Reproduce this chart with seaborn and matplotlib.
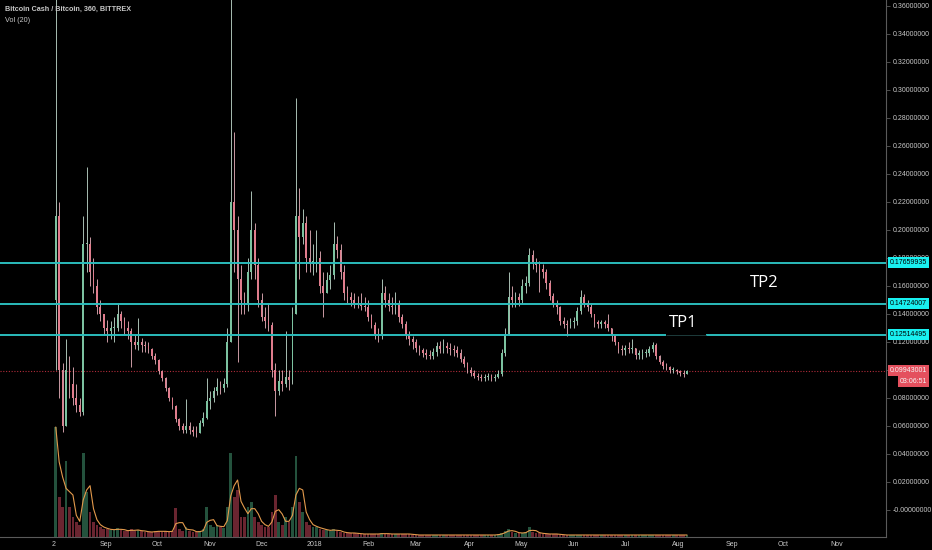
import numpy as np
import pandas as pd
import matplotlib
matplotlib.use("Agg")
import matplotlib.pyplot as plt
import matplotlib.dates as mdates
import seaborn as sns

# ── DATA: 2-day bars (2 Aug 2017 - 7 Aug 2018) ────────────────────────────────
START = "2017-08-02"
FIRST_OPEN = 0.15

close = [
    0.21, 0.10, 0.06, 0.10, 0.09, 0.08, 0.075, 0.07, 0.19, 0.19,
    0.17, 0.16, 0.145, 0.14, 0.13, 0.128, 0.13, 0.13, 0.14, 0.135,
    0.13, 0.128, 0.12, 0.118, 0.12, 0.118, 0.117, 0.115, 0.11, 0.107,
    0.099, 0.094, 0.087, 0.08, 0.074, 0.065, 0.06, 0.057, 0.06, 0.057,
    0.056, 0.055, 0.062, 0.066, 0.078, 0.08, 0.085, 0.088, 0.087, 0.09,
    0.12, 0.22, 0.20, 0.165, 0.15, 0.148, 0.17, 0.20, 0.175, 0.15,
    0.138, 0.135, 0.132, 0.10, 0.085, 0.092, 0.09, 0.095, 0.093, 0.14,
    0.21, 0.195, 0.205, 0.18, 0.176, 0.178, 0.18, 0.16, 0.155, 0.164,
    0.168, 0.19, 0.186, 0.17, 0.155, 0.152, 0.15, 0.148, 0.147, 0.146,
    0.145, 0.138, 0.132, 0.126, 0.124, 0.155, 0.15, 0.146, 0.145, 0.148,
    0.138, 0.133, 0.125, 0.122, 0.12, 0.116, 0.114, 0.112, 0.111, 0.11,
    0.113, 0.117, 0.115, 0.117, 0.116, 0.115, 0.114, 0.112, 0.108, 0.104,
    0.10, 0.098, 0.096, 0.095, 0.094, 0.095, 0.096, 0.094, 0.095, 0.097,
    0.112, 0.126, 0.152, 0.15, 0.152, 0.15, 0.16, 0.162, 0.182, 0.177,
    0.175, 0.172, 0.17, 0.162, 0.153, 0.148, 0.145, 0.135, 0.133, 0.132,
    0.134, 0.135, 0.142, 0.152, 0.148, 0.145, 0.14, 0.134, 0.133, 0.134,
    0.133, 0.13, 0.124, 0.12, 0.115, 0.114, 0.116, 0.115, 0.116, 0.111,
    0.111, 0.112, 0.112, 0.115, 0.118, 0.11, 0.106, 0.103, 0.102, 0.10,
    0.10, 0.099, 0.098, 0.097, 0.0994,
]
high = [
    0.40, 0.22, 0.105, 0.122, 0.11, 0.102, 0.09, 0.08, 0.21, 0.245,
    0.195, 0.18, 0.165, 0.15, 0.14, 0.136, 0.135, 0.138, 0.148, 0.142,
    0.138, 0.135, 0.13, 0.125, 0.137, 0.123, 0.121, 0.12, 0.116, 0.112,
    0.108, 0.10, 0.095, 0.088, 0.081, 0.075, 0.066, 0.062, 0.079, 0.063,
    0.06, 0.06, 0.064, 0.07, 0.094, 0.085, 0.088, 0.094, 0.092, 0.094,
    0.13, 0.40, 0.27, 0.21, 0.175, 0.156, 0.18, 0.228, 0.205, 0.18,
    0.155, 0.145, 0.148, 0.134, 0.105, 0.10, 0.10, 0.128, 0.10, 0.145,
    0.294, 0.23, 0.215, 0.21, 0.20, 0.19, 0.20, 0.185, 0.17, 0.17,
    0.175, 0.206, 0.196, 0.19, 0.175, 0.16, 0.156, 0.155, 0.153, 0.155,
    0.152, 0.15, 0.14, 0.134, 0.13, 0.165, 0.16, 0.155, 0.152, 0.156,
    0.15, 0.14, 0.135, 0.128, 0.124, 0.122, 0.118, 0.116, 0.115, 0.114,
    0.116, 0.12, 0.121, 0.122, 0.12, 0.119, 0.118, 0.117, 0.115, 0.11,
    0.106, 0.102, 0.10, 0.098, 0.097, 0.097, 0.098, 0.097, 0.097, 0.10,
    0.115, 0.13, 0.17, 0.16, 0.156, 0.155, 0.165, 0.167, 0.187, 0.186,
    0.18, 0.178, 0.176, 0.172, 0.164, 0.155, 0.15, 0.146, 0.138, 0.136,
    0.137, 0.138, 0.145, 0.157, 0.154, 0.15, 0.147, 0.14, 0.136, 0.136,
    0.136, 0.14, 0.13, 0.125, 0.12, 0.118, 0.118, 0.12, 0.122, 0.116,
    0.114, 0.115, 0.115, 0.117, 0.12, 0.119, 0.111, 0.107, 0.105, 0.103,
    0.102, 0.101, 0.10, 0.10, 0.10,
]
low = [
    0.10, 0.08, 0.056, 0.06, 0.08, 0.075, 0.07, 0.067, 0.068, 0.17,
    0.16, 0.155, 0.14, 0.135, 0.125, 0.12, 0.122, 0.12, 0.128, 0.13,
    0.125, 0.122, 0.102, 0.115, 0.114, 0.113, 0.113, 0.112, 0.108, 0.104,
    0.097, 0.092, 0.085, 0.078, 0.072, 0.063, 0.057, 0.055, 0.055, 0.054,
    0.053, 0.052, 0.055, 0.06, 0.065, 0.072, 0.077, 0.082, 0.083, 0.084,
    0.088, 0.12, 0.17, 0.106, 0.14, 0.14, 0.142, 0.165, 0.165, 0.145,
    0.135, 0.13, 0.128, 0.095, 0.067, 0.082, 0.085, 0.088, 0.086, 0.09,
    0.14, 0.165, 0.19, 0.17, 0.17, 0.168, 0.17, 0.155, 0.138, 0.155,
    0.158, 0.165, 0.18, 0.165, 0.15, 0.148, 0.146, 0.144, 0.144, 0.143,
    0.142, 0.135, 0.13, 0.122, 0.12, 0.122, 0.145, 0.142, 0.14, 0.14,
    0.134, 0.13, 0.122, 0.118, 0.115, 0.113, 0.111, 0.109, 0.108, 0.108,
    0.108, 0.11, 0.112, 0.112, 0.112, 0.111, 0.11, 0.109, 0.106, 0.102,
    0.098, 0.096, 0.094, 0.093, 0.092, 0.092, 0.093, 0.092, 0.092, 0.094,
    0.096, 0.11, 0.125, 0.145, 0.145, 0.146, 0.148, 0.155, 0.16, 0.172,
    0.17, 0.156, 0.166, 0.158, 0.15, 0.145, 0.14, 0.132, 0.13, 0.124,
    0.13, 0.13, 0.132, 0.14, 0.145, 0.142, 0.138, 0.131, 0.13, 0.13,
    0.13, 0.128, 0.121, 0.118, 0.112, 0.111, 0.111, 0.112, 0.112, 0.108,
    0.108, 0.108, 0.109, 0.11, 0.113, 0.108, 0.104, 0.101, 0.10, 0.098,
    0.098, 0.097, 0.096, 0.095, 0.097,
]
# relative volume (arbitrary units, pane scaled 0..538)
volume = [
    110, 40, 30, 76, 30, 20, 15, 12, 84, 45,
    25, 15, 12, 10, 8, 8, 7, 7, 9, 7,
    6, 6, 8, 6, 7, 6, 5, 5, 5, 6,
    6, 5, 6, 5, 6, 29, 8, 6, 10, 6,
    5, 5, 6, 8, 30, 12, 10, 12, 10, 9,
    30, 84, 40, 47, 20, 20, 30, 35, 20, 15,
    12, 10, 10, 25, 42, 15, 12, 20, 15, 30,
    81, 35, 25, 15, 12, 10, 10, 8, 7, 7,
    6, 8, 6, 5, 4, 4, 4, 4, 3, 3,
    3, 3, 3, 3, 3, 4, 3, 3, 3, 3,
    3, 3, 3, 3, 2, 2, 2, 2, 2, 2,
    2, 2, 2, 2, 2, 2, 2, 2, 2, 2,
    2, 2, 2, 2, 2, 2, 2, 2, 2, 3,
    4, 6, 8, 5, 4, 4, 4, 5, 10, 5,
    4, 4, 3, 3, 3, 3, 3, 2, 2, 2,
    2, 2, 2, 2, 2, 2, 2, 2, 2, 2,
    2, 2, 2, 2, 2, 2, 2, 2, 2, 2,
    2, 2, 2, 2, 2, 2, 2, 2, 2, 2,
    2, 2, 2, 2, 2,
]

levels = [0.17659935, 0.14724007, 0.12514495]
level_labels = ["0.17659935", "0.14724007", "0.12514495"]
last_price = 0.09943001
last_label = "0.09943001"
timer_label = "03:06:51"

price_ticks = [0.00, 0.02, 0.04, 0.06, 0.08, 0.10, 0.12, 0.14, 0.16, 0.18,
               0.20, 0.22, 0.24, 0.26, 0.28, 0.30, 0.32, 0.34, 0.36]
month_ticks = ["2017-08-02", "2017-09-01", "2017-10-01", "2017-11-01", "2017-12-01",
               "2018-01-01", "2018-02-01", "2018-03-01", "2018-04-01", "2018-05-01",
               "2018-06-01", "2018-07-01", "2018-08-01", "2018-09-01", "2018-10-01",
               "2018-11-01"]
month_labels = ["2", "Sep", "Oct", "Nov", "Dec", "2018", "Feb", "Mar", "Apr", "May",
                "Jun", "Jul", "Aug", "Sep", "Oct", "Nov"]

# ── STYLE ─────────────────────────────────────────────────────────────────────
BG = "#000000"
UP, DOWN = "#7cc2a0", "#e07d8d"
UP_WICK, DOWN_WICK = "#c4ddd0", "#eab3bd"
VOL_UP, VOL_DOWN = "#24523d", "#6a2530"
CYAN_LINE, CYAN_BOX = "#2bbcbc", "#19f0f0"
RED = "#e4505e"
AXIS_GREY = "#5a5a5a"
TEXT_GREY = "#c8c8c8"

sns.set_theme(style="dark", rc={"axes.facecolor": BG, "figure.facecolor": BG,
                                "axes.edgecolor": AXIS_GREY, "grid.color": BG})
plt.rcParams["font.family"] = ["Liberation Sans", "DejaVu Sans"]

df = pd.DataFrame({"close": close, "high": high, "low": low, "volume": volume})
df["date"] = pd.date_range(START, periods=len(df), freq="2D") + pd.Timedelta(days=1)
df["open"] = df["close"].shift(1).fillna(FIRST_OPEN)
df["up"] = df["close"] >= df["open"]
df["vol_ma"] = df["volume"].rolling(3, min_periods=1).mean()
xs = mdates.date2num(df["date"])

fig = plt.figure(figsize=(9.32, 5.5), dpi=100)
rect = [0, 13 / 550, 886 / 932, 537 / 550]
ax_vol = fig.add_axes(rect)
ax = fig.add_axes(rect, sharex=ax_vol)
ax.patch.set_visible(False)

# ── VOLUME PANE ───────────────────────────────────────────────────────────────
ax_vol.bar(xs, df["volume"], width=1.6,
           color=np.where(df["up"], VOL_UP, VOL_DOWN), linewidth=0)
sns.lineplot(x=xs, y=df["vol_ma"], ax=ax_vol, color="#e39a4c", linewidth=0.8)
ax_vol.set_ylim(0, 537)
ax_vol.set_yticks([])
ax_vol.set_ylabel("")
for s in ax_vol.spines.values():
    s.set_visible(False)

# ── CANDLES ───────────────────────────────────────────────────────────────────
body_lo = np.minimum(df["open"], df["close"])
body_hi = np.maximum(df["open"], df["close"])
wick_hi = np.maximum(df["high"], body_hi)
wick_lo = np.minimum(df["low"], body_lo)
ax.vlines(xs, wick_lo, wick_hi, colors=np.where(df["up"], UP_WICK, DOWN_WICK),
          linewidth=0.6, zorder=3)
ax.bar(xs, np.maximum(body_hi - body_lo, 0.0008), bottom=body_lo, width=1.0,
       color=np.where(df["up"], UP, DOWN), linewidth=0, zorder=4)

# ── LEVELS ────────────────────────────────────────────────────────────────────
x0 = mdates.date2num(pd.Timestamp("2017-07-01 12:00"))
x1 = mdates.date2num(pd.Timestamp("2018-11-30"))
gap0 = mdates.date2num(pd.Timestamp("2018-07-24 12:00"))
gap1 = mdates.date2num(pd.Timestamp("2018-08-17"))

ax.hlines(levels[:2], x0, x1, color=CYAN_LINE, linewidth=1.4, zorder=5)
ax.hlines(levels[2], x0, gap0, color=CYAN_LINE, linewidth=1.4, zorder=5)
ax.hlines(levels[2], gap1, x1, color=CYAN_LINE, linewidth=1.4, zorder=5)
ax.hlines(levels[2], gap0, gap1, color="#1d3b3b", linewidth=0.7, zorder=5)
ax.axhline(last_price, color="#b02c3a", linestyle=(0, (1, 1.5)), linewidth=0.8, zorder=2)

ax.text(mdates.date2num(pd.Timestamp("2018-08-04")), 0.1336, "TP1", color="white",
        fontsize=12, ha="center", va="center", family=["Open Sans", "DejaVu Sans"], zorder=6)
ax.text(mdates.date2num(pd.Timestamp("2018-09-20")), 0.1621, "TP2", color="white",
        fontsize=12, ha="center", va="center", family=["Open Sans", "DejaVu Sans"], zorder=6)

# ── AXES ──────────────────────────────────────────────────────────────────────
ax.set_xlim(x0, x1)
ax.set_ylim(-0.0193, 510 / 1400)
ax.yaxis.tick_right()
ax.set_yticks(price_ticks)
tick_text = [f"{v:.8f}" for v in price_ticks]
tick_text[0] = "-0.00000000"
ax.set_yticklabels(tick_text)
ax.set_xticks(mdates.date2num(pd.to_datetime(month_ticks)))
ax.set_xticklabels(month_labels)
ax.tick_params(axis="both", colors=AXIS_GREY, labelcolor=TEXT_GREY, labelsize=5,
               length=3, width=0.6, pad=2)
ax.tick_params(axis="x", length=2, pad=0.8)
ax.grid(False)
ax_vol.grid(False)
for side in ["left", "top"]:
    ax.spines[side].set_visible(False)
for side in ["right", "bottom"]:
    ax.spines[side].set_color(AXIS_GREY)
    ax.spines[side].set_linewidth(0.8)

trans = ax.get_yaxis_transform()
for lv, lab in zip(levels, level_labels):
    ax.text(1.0463, lv, lab, transform=trans, ha="right", va="center", fontsize=5,
            color="black", clip_on=False, zorder=7,
            bbox=dict(boxstyle="square,pad=0.3", fc=CYAN_BOX, ec="none"))
ax.text(1.0463, last_price, last_label, transform=trans, ha="right", va="center",
        fontsize=5, color="#f4f4f4", clip_on=False, zorder=7,
        bbox=dict(boxstyle="square,pad=0.3", fc=RED, ec="none"))
ax.text(1.0463, 0.0921, timer_label, transform=trans, ha="right", va="center",
        fontsize=5, color="#f4f4f4", clip_on=False, zorder=7,
        bbox=dict(boxstyle="square,pad=0.3", fc=RED, ec="none"))

fig.text(5 / 932, 1 - 9 / 550, "Bitcoin Cash / Bitcoin, 360, BITTREX", color=TEXT_GREY,
         fontsize=5.2, fontweight="bold", ha="left", va="center")
fig.text(5 / 932, 1 - 20 / 550, "Vol (20)", color=TEXT_GREY,
         fontsize=5.2, ha="left", va="center")

fig.savefig("out.png", dpi=100, facecolor=BG)
